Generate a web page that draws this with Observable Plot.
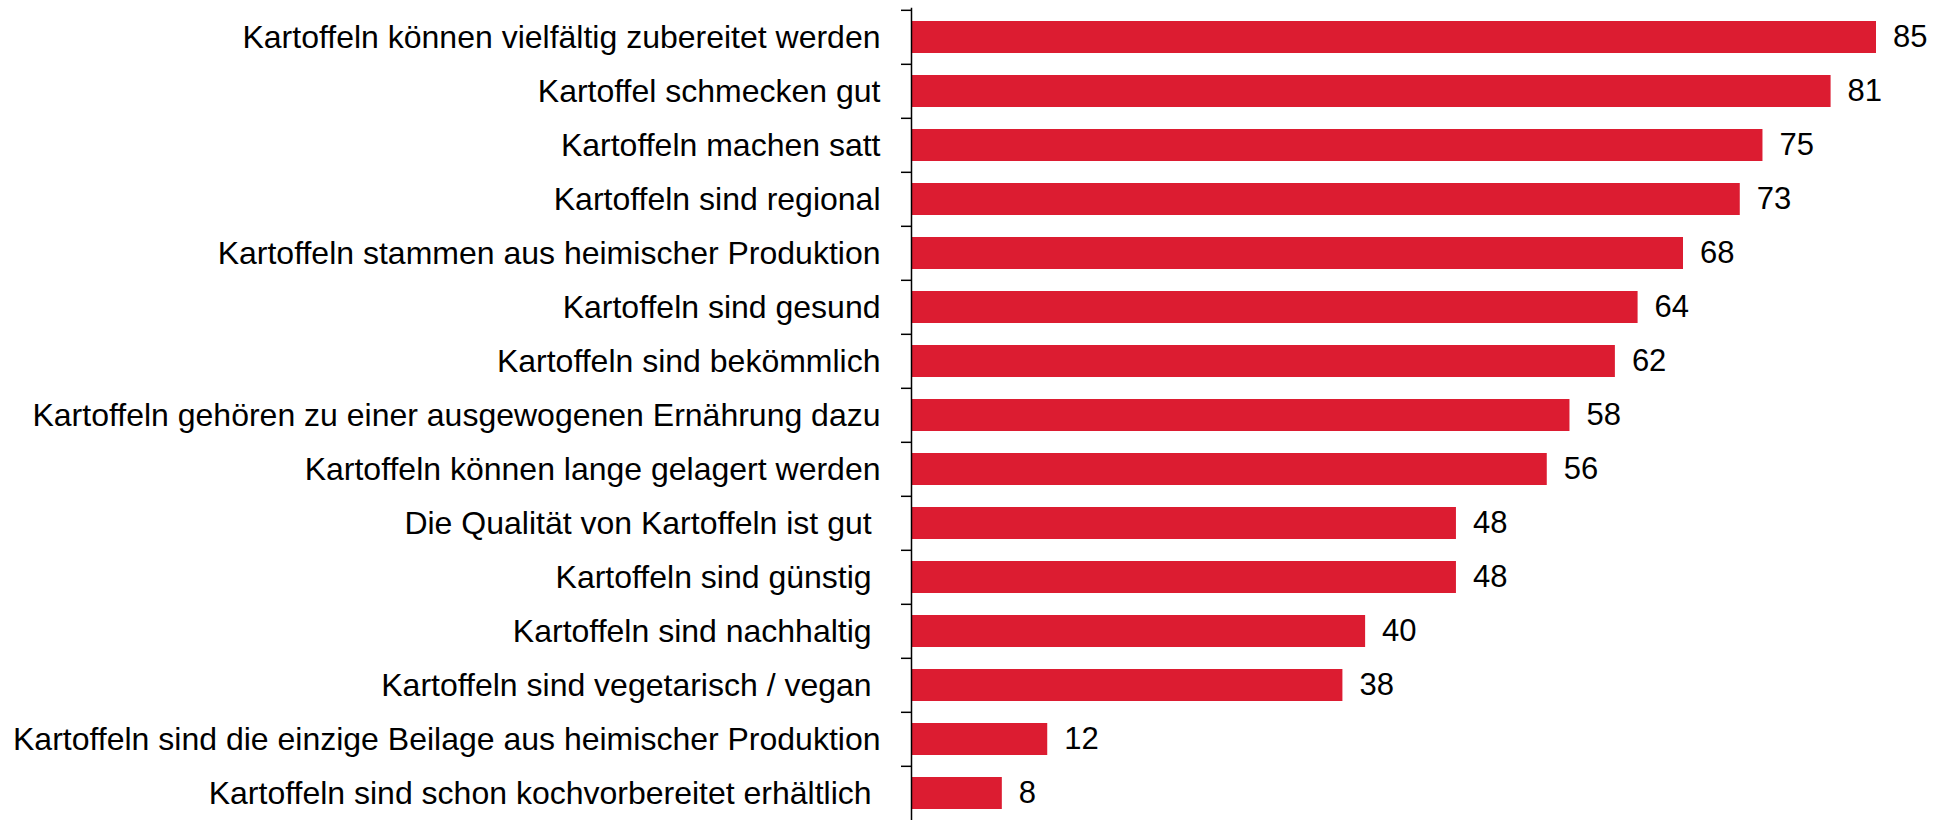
<!DOCTYPE html>
<html>
<head>
<meta charset="utf-8">
<script src="https://cdn.jsdelivr.net/npm/d3@7"></script>
<script src="https://cdn.jsdelivr.net/npm/@observablehq/plot@0.6"></script>
<style>
  html, body { margin: 0; padding: 0; background: #fff; }
</style>
</head>
<body>
<div id="chart"></div>
<script>
const categories = [
  "Kartoffeln können vielfältig zubereitet werden",
  "Kartoffel schmecken gut",
  "Kartoffeln machen satt",
  "Kartoffeln sind regional",
  "Kartoffeln stammen aus heimischer Produktion",
  "Kartoffeln sind gesund",
  "Kartoffeln sind bekömmlich",
  "Kartoffeln gehören zu einer ausgewogenen Ernährung dazu",
  "Kartoffeln können lange gelagert werden",
  "Die Qualität von Kartoffeln ist gut\u00a0",
  "Kartoffeln sind günstig\u00a0",
  "Kartoffeln sind nachhaltig\u00a0",
  "Kartoffeln sind vegetarisch / vegan\u00a0",
  "Kartoffeln sind die einzige Beilage aus heimischer Produktion",
  "Kartoffeln sind schon kochvorbereitet erhältlich\u00a0"
];
const values = [85, 81, 75, 73, 68, 64, 62, 58, 56, 48, 48, 40, 38, 12, 8];

const data = categories.map((c, i) => ({label: c, value: values[i]}));

const bandStep = 54.37;
const plotTop = 7.8;

const chart = Plot.plot({
  width: 1936,
  height: 820,
  marginLeft: 911,
  marginRight: 60,
  marginTop: plotTop,
  marginBottom: 0,
  style: {fontFamily: "'Liberation Sans', Arial, sans-serif", fontSize: "31px", color: "#000", background: "#fff"},
  x: {domain: [0, 85], range: [911, 1876], axis: null},
  y: {domain: categories, range: [plotTop, plotTop + bandStep * categories.length], paddingInner: 0.402, paddingOuter: 0.201, label: null},
  marks: [
    Plot.barX(data, {x: "value", y: "label", fill: "#DC1C31"}),
    Plot.axisY({tickSize: 10, tickFormat: () => "", dy: -bandStep / 2, stroke: "#000", strokeWidth: 1.5}),
    Plot.axisY({tickSize: 0, tickPadding: 31, fill: "#000", fontSize: 32}),
    Plot.ruleX([0], {stroke: "#000", strokeWidth: 1.5}),
    Plot.text(data, {x: "value", y: "label", text: d => String(d.value), textAnchor: "start", dx: 16.5, fill: "#000", fontSize: 31})
  ]
});
document.getElementById("chart").appendChild(chart);
</script>
</body>
</html>
